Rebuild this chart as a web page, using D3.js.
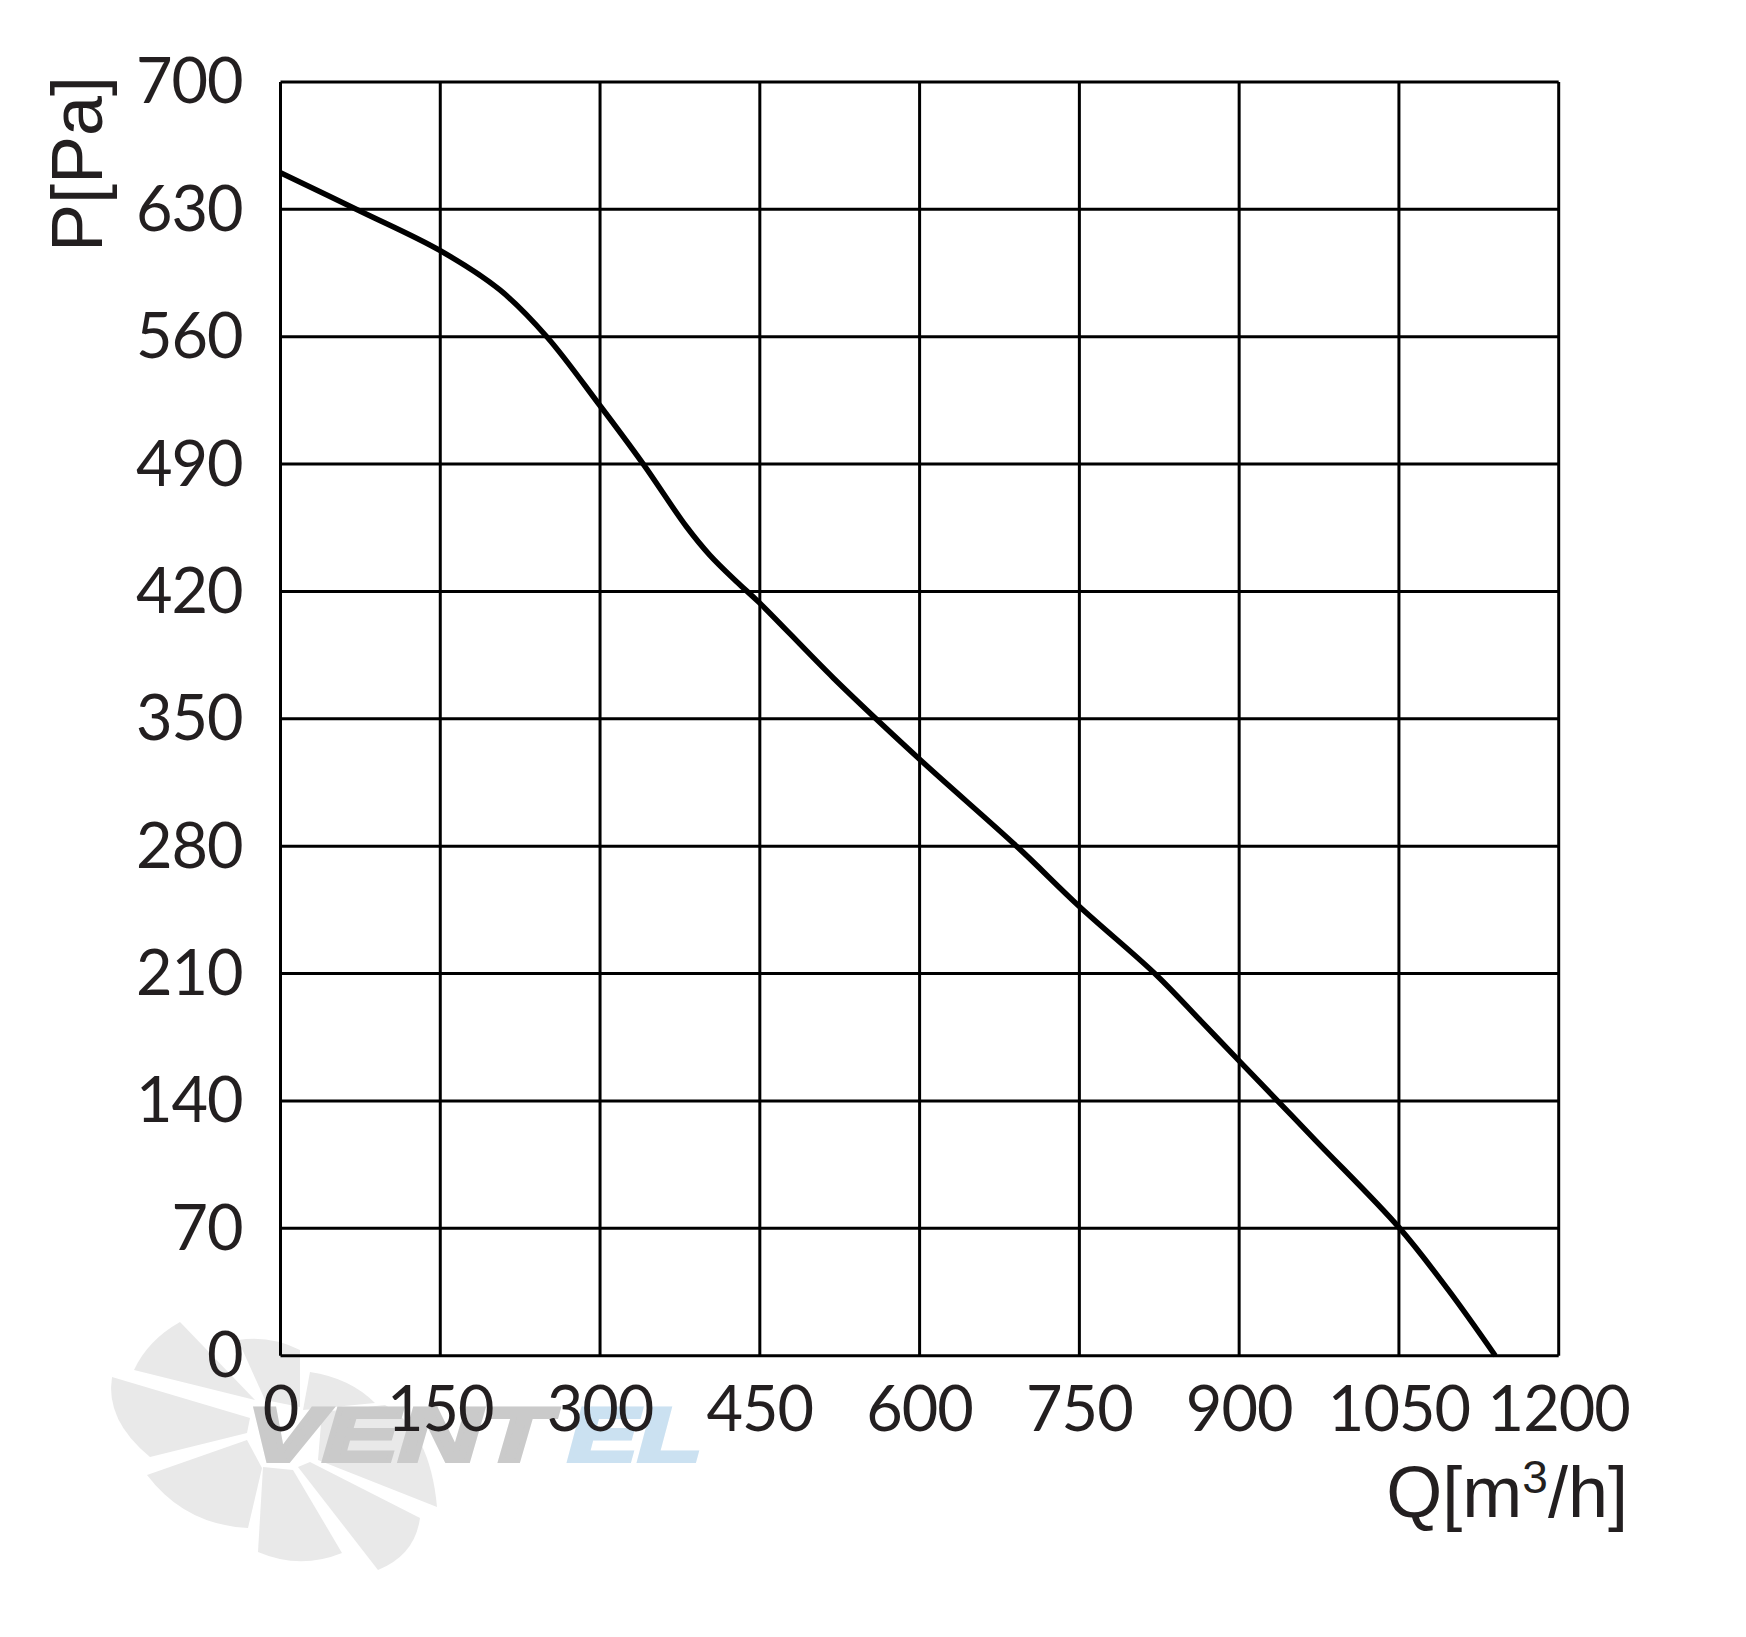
<!DOCTYPE html>
<html>
<head>
<meta charset="utf-8">
<title>P-Q curve</title>
<script src="https://cdn.jsdelivr.net/npm/d3@7"></script>
<style>
    body { margin: 0; background: #fff; }
    .tick text { font-family: Lato, "Open Sans", sans-serif; font-size: 63px; fill: #231f20; letter-spacing: -1px; }
    .tick line { stroke: #000; stroke-width: 3px; }
    .axisText { font-family: "Liberation Sans", Arial, sans-serif; font-size: 72px; fill: #231f20; }
    .mark { font-family: "Liberation Sans", Arial, sans-serif; font-size: 76px; font-weight: 700; font-style: italic; }
</style>
</head>
<body>
<div id="chart"></div>
<script>
// tick labels
var qTicks = [0, 150, 300, 450, 600, 750, 900, 1050, 1200];
var pTicks = [0, 70, 140, 210, 280, 350, 420, 490, 560, 630, 700];

// curve
var qValues = [0, 75, 150, 206, 250, 299.5, 340.6, 381, 403, 428, 450, 519.5, 600, 692, 750, 822, 864, 900, 971, 1050, 1096.5, 1140.5];
var pValues = [650.1, 629, 607.3, 585.7, 560, 522.5, 490, 455.7, 440, 425.5, 413.6, 372.2, 327.8, 279.5, 246.9, 209.4, 184, 162, 118.8, 70.5, 36, 0];

var svgWidth = 1746;
var svgHeight = 1637;

var margin = { top: 82, right: 187.3, bottom: 281.3, left: 280.5 };
var width = svgWidth - margin.left - margin.right;
var height = svgHeight - margin.top - margin.bottom;

var svg = d3.select("#chart")
    .append("svg")
    .attr("width", svgWidth)
    .attr("height", svgHeight)
    .style("display", "block");

// watermark behind the chart
var logo = svg.append("g");
var blades = [
    "M180,1322 Q148,1340 134,1370 L255,1400 Z",
    "M112,1377 Q105,1420 150,1457 L247,1433 L250,1418 Z",
    "M147,1475 Q185,1525 248,1528 L262,1468 L247,1440 Z",
    "M263,1467 L258,1552 Q300,1570 342,1553 L293,1470 Z",
    "M298,1467 L378,1570 Q415,1555 420,1518 L310,1462 Z",
    "M322,1412 L385,1405 Q430,1430 437,1507 L318,1460 Z",
    "M310,1372 Q350,1378 375,1403 L303,1410 Z",
    "M238,1340 Q270,1335 300,1350 L300,1407 L265,1400 Z"
];
logo.selectAll("path")
    .data(blades)
    .enter()
    .append("path")
    .attr("d", d => d)
    .attr("fill", "#e9e9e9");

logo.append("text")
    .attr("class", "mark")
    .attr("x", 247)
    .attr("y", 1461)
    .attr("textLength", 303)
    .attr("lengthAdjust", "spacingAndGlyphs")
    .attr("fill", "#cacaca")
    .attr("stroke", "#cacaca")
    .attr("stroke-width", 4)
    .text("VENT");

logo.append("text")
    .attr("class", "mark")
    .attr("x", 568)
    .attr("y", 1461)
    .attr("textLength", 134)
    .attr("lengthAdjust", "spacingAndGlyphs")
    .attr("fill", "#cbe1f1")
    .attr("stroke", "#cbe1f1")
    .attr("stroke-width", 4)
    .text("EL");

var chartGroup = svg.append("g")
    .attr("transform", `translate(${margin.left}, ${margin.top})`);

var xScale = d3.scaleLinear()
    .domain([0, 1200])
    .range([0, width]);

var yScale = d3.scaleLinear()
    .domain([0, 700])
    .range([height, 0]);

// axes double as the grid
var bottomAxis = d3.axisBottom(xScale)
    .tickValues(qTicks)
    .tickSize(-height)
    .tickPadding(31)
    .offset(0)
    .tickFormat(d3.format("d"));

var leftAxis = d3.axisLeft(yScale)
    .tickValues(pTicks)
    .tickSize(-width)
    .tickPadding(38)
    .offset(0)
    .tickFormat(d3.format("d"));

chartGroup.append("g")
    .attr("transform", `translate(0, ${height})`)
    .call(bottomAxis)
    .call(g => g.select(".domain").remove());

chartGroup.append("g")
    .call(leftAxis)
    .call(g => g.select(".domain").remove())
    .call(g => g.selectAll("text").attr("dy", "0.34em"));

// the curve
var curveLine = d3.line()
    .x(d => xScale(d))
    .y((d, i) => yScale(pValues[i]))
    .curve(d3.curveCatmullRom);

chartGroup.append("path")
    .attr("d", curveLine(qValues))
    .attr("fill", "none")
    .attr("stroke", "#000")
    .attr("stroke-width", 5.5);

// axis labels
svg.append("text")
    .attr("class", "axisText")
    .attr("transform", "translate(102, 252) rotate(-90)")
    .text("P[Pa]");

var qLabel = svg.append("text")
    .attr("class", "axisText")
    .attr("x", 1628)
    .attr("y", 1517)
    .attr("text-anchor", "end");
qLabel.append("tspan").text("Q[m");
qLabel.append("tspan").attr("dy", -24).style("font-size", "46px").text("3");
qLabel.append("tspan").attr("dy", 24).text("/h]");
</script>
</body>
</html>
